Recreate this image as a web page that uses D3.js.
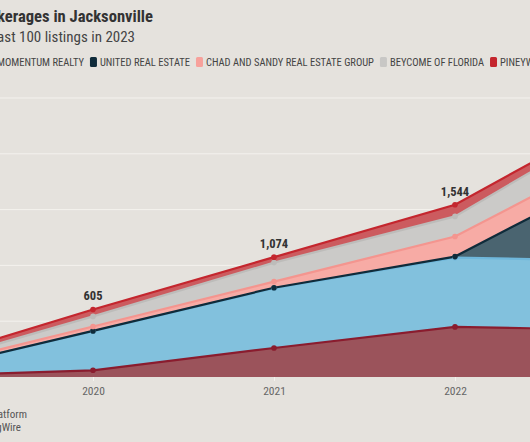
<!DOCTYPE html>
<html>
<head>
<meta charset="utf-8">
<script src="https://cdn.jsdelivr.net/npm/d3@7"></script>
<style>
  html, body { margin: 0; padding: 0; background: #e5e2dd; overflow: hidden; }
  svg { display: block; }
  text { font-family: 'Roboto Condensed', 'Liberation Sans Narrow', 'DejaVu Sans Condensed', Roboto, sans-serif; }
</style>
</head>
<body>
<svg id="chart" width="530" height="442"></svg>
<script>
// ---- data ----
const years = [2019, 2020, 2021, 2022, 2023];
const seriesNames = ["WATSON REALTY CORP", "MOMENTUM REALTY", "UNITED REAL ESTATE", "CHAD AND SANDY REAL ESTATE GROUP", "BEYCOME OF FLORIDA", "PINEYWOODS REALTY"];
const watson   = [5, 60, 260, 449, 420];
const momentum = [25, 350, 535, 620, 620];
const united   = [0, 3, 5, 10, 880];
const chad     = [25, 40, 55, 180, 180];
const beycome  = [20, 90, 170, 180, 290];
const piney    = [35, 62, 49, 105, 45];
const yTicks = [500, 1000, 1500, 2000, 2500];
const labelYears = [2020, 2021, 2022];
const title = "Top Brokerages in Jacksonville";
const subtitle = "Brokerages with at least 100 listings in 2023";
const sourceLines = ["Source: MLS listings platform", "Chart: ListingWire"];

const fills = ["#9b535b", "#82c1dd", "#4a6470", "#f7aba5", "#cbcac8", "#cc5b5f"];
const strokes = ["#8a1c2e", "#6fb7db", "#0f2b3a", "#f4958f", "#bdbcba", "#c4262e"];
const swatches = ["#8a1c2e", "#82c1dd", "#0f2b3a", "#f7a19b", "#c8c7c5", "#c4262e"];

const valuesBySeries = [watson, momentum, united, chad, beycome, piney];
const table = years.map((yr, i) => {
  const row = { year: yr };
  seriesNames.forEach((n, s) => row[n] = valuesBySeries[s][i]);
  return row;
});

const svg = d3.select("#chart");
const W = 530, H = 442;

const x = d3.scaleLinear().domain([2019, 2023]).range([-88, 636]);
const y = d3.scaleLinear().domain([0, 2500]).range([377, 98]);

// gridlines
svg.append("g").selectAll("line").data(yTicks).join("line")
  .attr("x1", 0).attr("x2", W)
  .attr("y1", d => y(d)).attr("y2", d => y(d))
  .attr("stroke", "#f4f2ee").attr("stroke-width", 1);

const stacked = d3.stack().keys(seriesNames)(table);

const area = d3.area().x(d => x(d.data.year)).y0(d => y(d[0])).y1(d => y(d[1]));
const line = d3.line().x(d => x(d.data.year)).y(d => y(d[1]));

svg.append("g").selectAll("path").data(stacked).join("path")
  .attr("d", area).attr("fill", (d, i) => fills[i]);

svg.append("g").selectAll("path").data(stacked).join("path")
  .attr("d", line).attr("fill", "none")
  .attr("stroke", (d, i) => strokes[i]).attr("stroke-width", 2.2);

stacked.forEach((s, i) => {
  svg.append("g").selectAll("circle").data(s).join("circle")
    .attr("cx", d => x(d.data.year)).attr("cy", d => y(d[1]))
    .attr("r", 2.8).attr("fill", strokes[i]);
});

// total labels
const topSeries = stacked[stacked.length - 1];
svg.append("g").selectAll("text").data(topSeries.filter(d => labelYears.includes(d.data.year))).join("text")
  .attr("x", d => x(d.data.year)).attr("y", d => y(d[1]) - 9)
  .attr("text-anchor", "middle")
  .attr("font-size", 12.5).attr("font-weight", 700).attr("fill", "#333")
  .text(d => d3.format(",")(d[1]));

// x axis
const xAxis = d3.axisBottom(x).tickValues([2020, 2021, 2022]).tickFormat(d3.format("d")).tickSize(4).tickPadding(6);
const ax = svg.append("g").attr("transform", `translate(0,${y(0)})`).call(xAxis);
ax.select(".domain").remove();
ax.selectAll(".tick line").attr("stroke", "#f4f2ee");
ax.selectAll(".tick text").attr("font-size", 11.5).attr("fill", "#666")
  .style("font-family", "'Roboto Condensed', 'Liberation Sans Narrow', 'DejaVu Sans Condensed', Roboto, sans-serif");

// title + subtitle
svg.append("text").attr("x", 153).attr("y", 22).attr("text-anchor", "end")
  .attr("font-size", 16.6).attr("font-weight", 700).attr("fill", "#333").text(title);
svg.append("text").attr("x", 135).attr("y", 42).attr("text-anchor", "end")
  .attr("font-size", 15).attr("fill", "#444").text(subtitle);

// legend
const lg = svg.append("g");
const items = seriesNames.map((n, i) => {
  const g = lg.append("g");
  g.append("rect").attr("width", 7).attr("height", 10).attr("rx", 1.5).attr("fill", swatches[i]);
  const t = g.append("text").attr("x", 10).attr("y", 9).attr("font-size", 10.5).attr("fill", "#444").text(n);
  return { g, w: t.node().getComputedTextLength() + 10 };
});
const gap = 6;
let cx = -(items[0].w + gap) - 13;
items.forEach(it => { it.g.attr("transform", `translate(${cx},57)`); cx += it.w + gap; });

// source
svg.append("g").selectAll("text").data(sourceLines).join("text")
  .attr("x", (d, i) => i === 0 ? 27 : 21).attr("y", (d, i) => 418 + i * 13)
  .attr("text-anchor", "end").attr("font-size", 11).attr("fill", "#555").text(d => d);
</script>
</body>
</html>
